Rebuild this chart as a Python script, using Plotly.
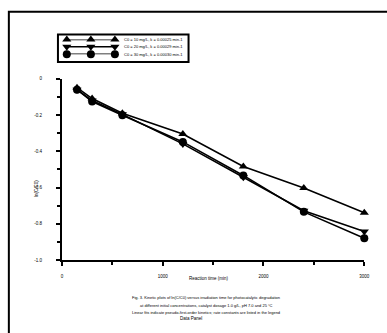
import plotly.graph_objects as go

# Irradiation time (min) and ln(C/C0) for three runs
time_min = [150, 300, 600, 1200, 1800, 2400, 3000]
run_a = [-0.049, -0.109, -0.190, -0.304, -0.484, -0.603, -0.739]
run_b = [-0.060, -0.120, -0.196, -0.359, -0.543, -0.728, -0.842]
run_c = [-0.060, -0.125, -0.201, -0.348, -0.533, -0.734, -0.880]

series_names = ["C0 = 10 mg/L, k = 0.00025 min-1",
                "C0 = 20 mg/L, k = 0.00029 min-1",
                "C0 = 30 mg/L, k = 0.00030 min-1"]
series_symbols = ["triangle-up", "triangle-down", "circle"]

x_tick_vals = [0, 1000, 2000, 3000]
x_tick_text = ["0", "1000", "2000", "3000"]
y_tick_vals = [0, -0.2, -0.4, -0.6, -0.8, -1.0]
y_tick_text = ["0", "-0.2", "-0.4", "-0.6", "-0.8", "-1.0"]

caption_lines = [
    "Fig. 3. Kinetic plots of ln(C/C0) versus irradiation time for photocatalytic degradation",
    "at different initial concentrations, catalyst dosage 1.0 g/L, pH 7.0 and 25 °C",
    "Linear fits indicate pseudo-first-order kinetics; rate constants are listed in the legend",
]

W, H = 387, 333


def px(x):
    return x / W


def py(y):
    return 1 - y / H


fig = go.Figure()

for ys, sym in zip([run_a, run_b, run_c], series_symbols):
    fig.add_trace(go.Scatter(
        x=time_min, y=ys, mode="lines+markers",
        line=dict(color="black", width=1.6),
        marker=dict(symbol=sym, size=8, color="black"),
        cliponaxis=False, showlegend=False,
    ))

# key box: a short line with three markers per run
key_x = [0, 1, 2]
for i, sym in enumerate(series_symbols):
    fig.add_trace(go.Scatter(
        x=key_x, y=[2 - i] * 3, xaxis="x2", yaxis="y2",
        mode="lines+markers",
        line=dict(color="black", width=1.6),
        marker=dict(symbol=sym, size=8, color="black"),
        cliponaxis=False, showlegend=False,
    ))
    fig.add_annotation(
        x=px(123), y=py([38, 45.5, 53][i]), xref="paper", yref="paper",
        text=series_names[i], showarrow=False, xanchor="left", yanchor="middle",
        font=dict(size=4, color="black"),
    )

axis_common = dict(
    showline=True, linecolor="black", linewidth=2,
    ticks="outside", ticklen=4, tickwidth=1.5, tickcolor="black",
    showgrid=False, zeroline=False,
    tickfont=dict(size=4.5, color="black", family="Arial, Liberation Sans"),
)

fig.update_layout(
    width=W, height=H,
    margin=dict(l=0, r=0, t=0, b=0),
    paper_bgcolor="white", plot_bgcolor="white",
    xaxis=dict(
        domain=[px(62), px(370)], range=[0, 3000],
        tickvals=x_tick_vals, ticktext=x_tick_text,
        minor=dict(ticks="outside", ticklen=3, tickwidth=1.5, tickcolor="black", dtick=500),
        ticklabelstandoff=7, anchor="y",
        **axis_common,
    ),
    yaxis=dict(
        domain=[py(262), py(78)], range=[-1.0, 0],
        tickvals=y_tick_vals, ticktext=y_tick_text,
        minor=dict(ticks="outside", ticklen=3, tickwidth=1.5, tickcolor="black", dtick=0.1),
        ticklabelstandoff=13, anchor="x",
        **axis_common,
    ),
    xaxis2=dict(domain=[px(67), px(116)], range=[0, 2], visible=False, anchor="y2"),
    yaxis2=dict(domain=[py(53), py(38)], range=[0, 2], visible=False, anchor="x2"),
    font=dict(family="Arial, Liberation Sans", color="black"),
    showlegend=False,
)

# key frame
fig.add_shape(type="rect", xref="paper", yref="paper",
              x0=px(58), x1=px(191), y0=py(61), y1=py(33),
              line=dict(color="black", width=2))
# outer page frame
fig.add_shape(type="rect", xref="paper", yref="paper",
              x0=px(8), x1=px(420), y0=py(360), y1=py(10),
              line=dict(color="black", width=2))

# axis titles
fig.add_annotation(x=px(31), y=py(189), xref="paper", yref="paper",
                   text="ln(C/C0)", textangle=-90, showarrow=False,
                   font=dict(size=4.5, color="black"))
fig.add_annotation(x=px(212), y=py(285), xref="paper", yref="paper",
                   text="Reaction time (min)", showarrow=False,
                   font=dict(size=4.5, color="black"))

# caption
for j, line in enumerate(caption_lines):
    fig.add_annotation(x=px(209), y=py([305, 312.5, 320][j]), xref="paper", yref="paper",
                       text=line, showarrow=False,
                       font=dict(size=4, color="black"))
fig.add_annotation(x=px(193), y=py(326), xref="paper", yref="paper",
                   text="Data Panel", showarrow=False,
                   font=dict(size=4.5, color="black"))

fig.write_html("out.html")
